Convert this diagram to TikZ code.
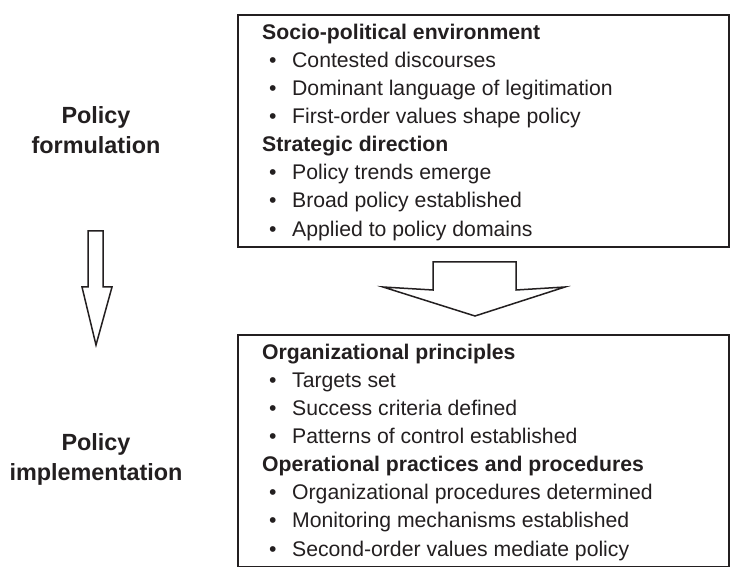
\documentclass[tikz,border=0pt]{standalone}
\usepackage{fontspec}
\setmainfont{Liberation Sans}
\definecolor{ink}{HTML}{231F20}
\newcommand{\itm}[1]{\hspace*{7pt}\makebox[23pt][l]{•}#1}
\begin{document}
\begin{tikzpicture}[x=1pt,y=-1pt,
  panel/.style={draw=ink, line width=1.6pt, minimum width=491pt, minimum height=232pt, anchor=north west, inner sep=0pt},
  boxtext/.style={text=ink, align=left, anchor=north west, inner sep=0pt, font=\fontsize{21.2}{28.1}\selectfont},
  sidelabel/.style={text=ink, align=center, anchor=north, inner sep=0pt, font=\fontsize{23.4}{30}\selectfont\bfseries},
  hollow/.style={draw=ink, line width=1.5pt, line join=miter, fill=white}]
\useasboundingbox (0,0) rectangle (732,567);
\fill[white] (0,0) rectangle (732,567);

\node[panel] (topbox) at (237,14) {};
\node[panel] (botbox) at (237,334) {};

\node[boxtext] (toptext) at (262,23.8) {%
\textbf{Socio-political environment}\\
\itm{Contested discourses}\\
\itm{Dominant language of legitimation}\\
\itm{First-order values shape policy}\\
\textbf{Strategic direction}\\
\itm{Policy trends emerge}\\
\itm{Broad policy established}\\
\itm{Applied to policy domains}};

\node[boxtext] (bottext) at (262,343.8) {%
\textbf{Organizational principles}\\
\itm{Targets set}\\
\itm{Success criteria defined}\\
\itm{Patterns of control established}\\
\textbf{Operational practices and procedures}\\
\itm{Organizational procedures determined}\\
\itm{Monitoring mechanisms established}\\
\itm{Second-order values mediate policy}};

\node[sidelabel] (formulation) at (96,106.2) {Policy\\formulation};
\node[sidelabel] (implementation) at (96,433.2) {Policy\\implementation};

% left arrow
\draw[hollow] (88,231) -- (103,231) -- (103,287) -- (112,287) -- (96,345) -- (82,287) -- (88,287) -- cycle;
% big arrow between boxes
\draw[hollow] (433,262) -- (516,262) -- (516,290) -- (565,287) -- (475,316) -- (383,287) -- (433,290) -- cycle;
\end{tikzpicture}
\end{document}
